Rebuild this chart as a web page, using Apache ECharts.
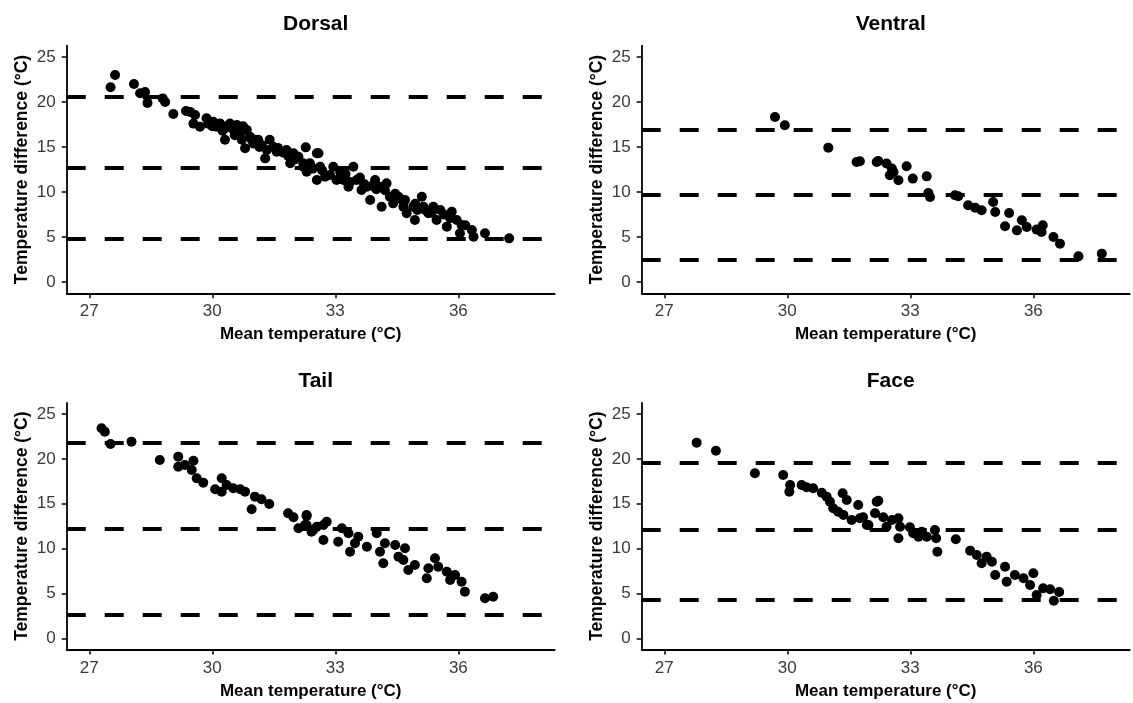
<!DOCTYPE html>
<html><head><meta charset="utf-8">
<script src="https://cdn.jsdelivr.net/npm/echarts@6/dist/echarts.min.js"></script>
<style>html,body{margin:0;padding:0;background:#fff}#c{width:1133px;height:703px}</style>
</head><body><div id="c"></div>
<script>
const panelTitles = ['Dorsal', 'Ventral', 'Tail', 'Face'];
const xTicks = [27, 30, 33, 36];
const yTicks = [0, 5, 10, 15, 20, 25];
const xTitle = 'Mean temperature (°C)';
const yTitle = 'Temperature difference (°C)';

const dorsalLines = [20.55, 12.65, 4.8];
const ventralLines = [16.9, 9.7, 2.5];
const tailLines = [21.85, 12.2, 2.6];
const faceLines = [19.6, 12.05, 4.35];

const dorsal = [
[27.52,21.63],[27.63,23.0],[28.09,22.0],[28.24,20.97],[28.36,21.1],[28.42,19.9],[28.79,20.4],[28.85,20.0],
[29.05,18.67],[29.36,19.0],[29.46,18.9],[29.58,18.56],[29.54,17.6],[29.7,17.26],[29.86,18.2],[29.9,17.6],
[30.02,17.8],[30.1,17.26],[30.19,17.6],[30.31,15.8],[30.35,17.26],[30.43,17.6],[30.52,16.9],[30.6,17.44],
[30.68,16.5],[30.72,15.8],[30.8,14.86],[30.84,16.9],[30.92,16.14],[31.0,15.4],[31.12,15.8],[31.29,13.74],
[31.33,14.67],[31.49,15.03],[31.57,14.48],[31.81,14.67],[31.9,13.19],[31.98,14.3],[32.1,13.92],[32.22,13.19],
[32.28,14.96],[32.3,12.26],[32.55,14.3],[32.55,11.33],[32.59,14.3],[32.22,12.8],[32.38,13.19],[32.63,12.8],
[32.75,11.7],[32.95,12.8],[33.03,11.33],[33.2,11.33],[33.32,10.59],[33.44,12.8],[33.52,11.33],[33.64,10.22],
[33.77,10.59],[33.85,9.11],[33.97,11.33],[34.09,10.59],[34.13,8.37],[34.25,10.96],[34.33,9.48],[34.41,8.74],
[34.54,9.48],[34.66,8.37],[34.74,7.63],[34.9,8.37],[34.94,6.89],[35.11,9.48],[35.15,8.37],[35.27,7.63],
[35.39,8.37],[35.47,6.89],[35.72,6.15],[35.84,7.8],[35.96,6.89],[36.08,6.33],[36.04,5.41],[36.33,5.78],
[36.37,5.03],[36.65,5.41],[37.24,4.85],
[30.31,17.1],[30.55,16.3],[30.75,17.3],[31.04,15.8],[31.21,15.2],[31.4,15.8],[31.72,14.4],[32.0,13.6],
[32.38,13.0],[32.68,12.4],[32.87,11.9],[33.12,12.2],[33.36,11.1],[33.6,11.6],[33.9,10.7],[34.21,10.2],
[34.46,9.8],[34.7,9.1],[34.95,8.7],[35.19,8.0],[35.56,8.0],[35.8,7.1],[36.17,6.3],
[30.0,17.3],[30.25,16.8],[30.65,16.9],[30.95,15.9],[31.15,15.0],[31.6,14.9],[31.85,14.0],[32.45,12.6],
[33.25,12.0],[33.7,10.9],[34.0,10.3],[34.6,9.2],[35.0,8.0],[35.35,7.7],[35.65,7.5]
];

const ventral = [
[29.7,18.33],[29.94,17.41],[31.0,14.93],[31.69,13.33],[31.77,13.41],[32.18,13.33],[32.22,13.44],[32.42,13.16],
[32.55,12.6],[32.5,11.86],[32.71,11.3],[32.59,12.22],[32.91,12.86],[33.06,11.49],[33.4,11.74],[33.48,9.44],
[33.44,9.89],[34.09,9.63],[34.17,9.52],[34.41,8.52],[34.58,8.26],[34.74,7.97],[35.02,8.89],[35.07,7.78],
[35.41,7.67],[35.31,6.19],[35.72,6.86],[35.6,5.74],[35.84,6.11],[36.08,5.82],[36.23,6.3],[36.2,5.56],
[36.49,5.0],[36.65,4.26],[37.1,2.85],[37.67,3.15]
];

const tail = [
[27.3,23.41],[27.38,23.03],[27.52,21.66],[28.03,21.92],[28.72,19.88],[29.17,20.25],[29.17,19.13],[29.33,19.32],
[29.54,19.8],[29.5,18.76],[29.62,17.84],[29.78,17.35],[30.23,17.84],[30.07,16.61],[30.23,16.34],[30.35,17.09],
[30.51,16.72],[30.68,16.61],[30.8,16.34],[30.96,14.38],[31.04,15.79],[31.2,15.5],[31.39,14.97],[31.85,13.94],
[31.98,13.49],[32.1,12.26],[32.3,13.63],[32.42,11.88],[32.3,12.63],[32.55,12.44],[32.3,13.75],[32.26,12.63],
[32.46,12.07],[32.71,12.63],[32.71,10.96],[32.79,13.0],[33.16,12.26],[33.07,10.77],[33.32,11.71],[33.36,9.65],
[33.48,10.59],[33.56,11.33],[33.77,10.21],[34.01,11.71],[34.09,9.65],[34.17,8.36],[34.21,10.59],[34.46,10.4],
[34.54,9.1],[34.7,10.03],[34.66,8.73],[34.78,7.61],[34.94,8.17],[35.23,6.69],[35.27,7.8],[35.43,8.92],
[35.51,7.98],[35.72,7.42],[35.8,6.5],[35.92,7.06],[36.08,6.31],[36.16,5.2],[36.65,4.46],[36.85,4.64]
];

const face = [
[27.79,21.81],[28.26,20.91],[29.21,18.39],[29.9,18.2],[30.07,17.09],[30.05,16.34],[30.35,17.09],[30.47,16.83],
[30.63,16.72],[30.84,16.23],[30.96,15.79],[31.04,15.23],[31.12,14.49],[31.24,14.11],[31.35,16.17],[31.45,15.42],
[31.37,13.75],[31.57,13.19],[31.73,14.86],[31.77,13.38],[31.98,12.63],[32.18,15.23],[32.14,13.94],[31.85,13.49],
[31.94,12.63],[32.22,15.34],[32.34,13.49],[32.42,12.44],[32.55,13.19],[32.71,13.38],[32.71,11.15],[32.75,12.44],
[32.99,12.37],[33.07,11.71],[33.2,11.33],[33.28,11.88],[33.4,11.33],[33.6,12.07],[33.63,11.15],[33.66,9.65],
[34.11,11.04],[34.46,9.77],[34.62,9.29],[34.74,8.36],[34.86,9.1],[34.99,8.54],[35.07,7.06],[35.31,7.98],
[35.35,6.31],[35.55,7.06],[35.76,6.69],[35.92,5.94],[36.0,7.25],[36.08,4.83],[36.24,5.57],[36.41,5.46],
[36.5,4.19],[36.63,5.16]
];

const panelData = [dorsal, ventral, tail, face];
const panelLines = [dorsalLines, ventralLines, tailLines, faceLines];

const FONT = '"Liberation Sans", Arial, sans-serif';
const X_MIN = 26.45, X_MAX = 38.35, Y_MIN = -1.25, Y_MAX = 26.25;
const gridBoxes = [
  {left: 66.7, top: 45.75, width: 488, height: 247.5},
  {left: 641.7, top: 45.75, width: 488, height: 247.5},
  {left: 66.7, top: 402.8, width: 488, height: 246.7},
  {left: 641.7, top: 402.8, width: 488, height: 246.7}
];
const titleTops = [9, 9, 366, 366];

const axisLine = {show: true, onZero: false, lineStyle: {color: '#000', width: 1.8}};
const option = {
  animation: false,
  backgroundColor: '#fff',
  title: panelTitles.map((t, i) => ({
    text: t, left: gridBoxes[i].left + gridBoxes[i].width / 2, top: titleTops[i], textAlign: 'center',
    textStyle: {fontFamily: FONT, fontWeight: 'bold', fontSize: 21, color: '#000'}
  })),
  grid: gridBoxes.map(g => Object.assign({containLabel: false}, g)),
  xAxis: gridBoxes.map((g, i) => ({
    type: 'value', gridIndex: i, min: X_MIN, max: X_MAX,
    axisLine: axisLine,
    axisTick: {show: true, customValues: xTicks, length: 5, lineStyle: {color: '#000', width: 1.5}},
    axisLabel: {customValues: xTicks, color: '#3a3a3a', fontSize: 17, fontFamily: FONT, margin: 10},
    splitLine: {show: false},
    name: xTitle, nameLocation: 'middle', nameGap: 33,
    nameTextStyle: {fontFamily: FONT, fontWeight: 'bold', fontSize: 17, color: '#000'}
  })),
  yAxis: gridBoxes.map((g, i) => ({
    type: 'value', gridIndex: i, min: Y_MIN, max: Y_MAX,
    axisLine: axisLine,
    axisTick: {show: true, customValues: yTicks, length: 5, lineStyle: {color: '#000', width: 1.5}},
    axisLabel: {customValues: yTicks, color: '#3a3a3a', fontSize: 17, fontFamily: FONT, margin: 11},
    splitLine: {show: false},
    name: yTitle, nameLocation: 'middle', nameGap: 36,
    nameTextStyle: {fontFamily: FONT, fontWeight: 'bold', fontSize: 17.5, color: '#000'}
  })),
  series: panelData.map((d, i) => ({
    type: 'scatter', xAxisIndex: i, yAxisIndex: i, data: d,
    symbolSize: 10, itemStyle: {color: '#000', opacity: 1},
    markLine: {
      silent: true, symbol: 'none', animation: false,
      label: {show: false},
      lineStyle: {color: '#000', width: 4, type: [19, 19], opacity: 1},
      emphasis: {disabled: true},
      data: panelLines[i].map(v => ({yAxis: v}))
    }
  }))
};
const chart = echarts.init(document.getElementById('c'), null, {renderer: 'canvas'});
chart.setOption(option);
</script>
</body></html>
